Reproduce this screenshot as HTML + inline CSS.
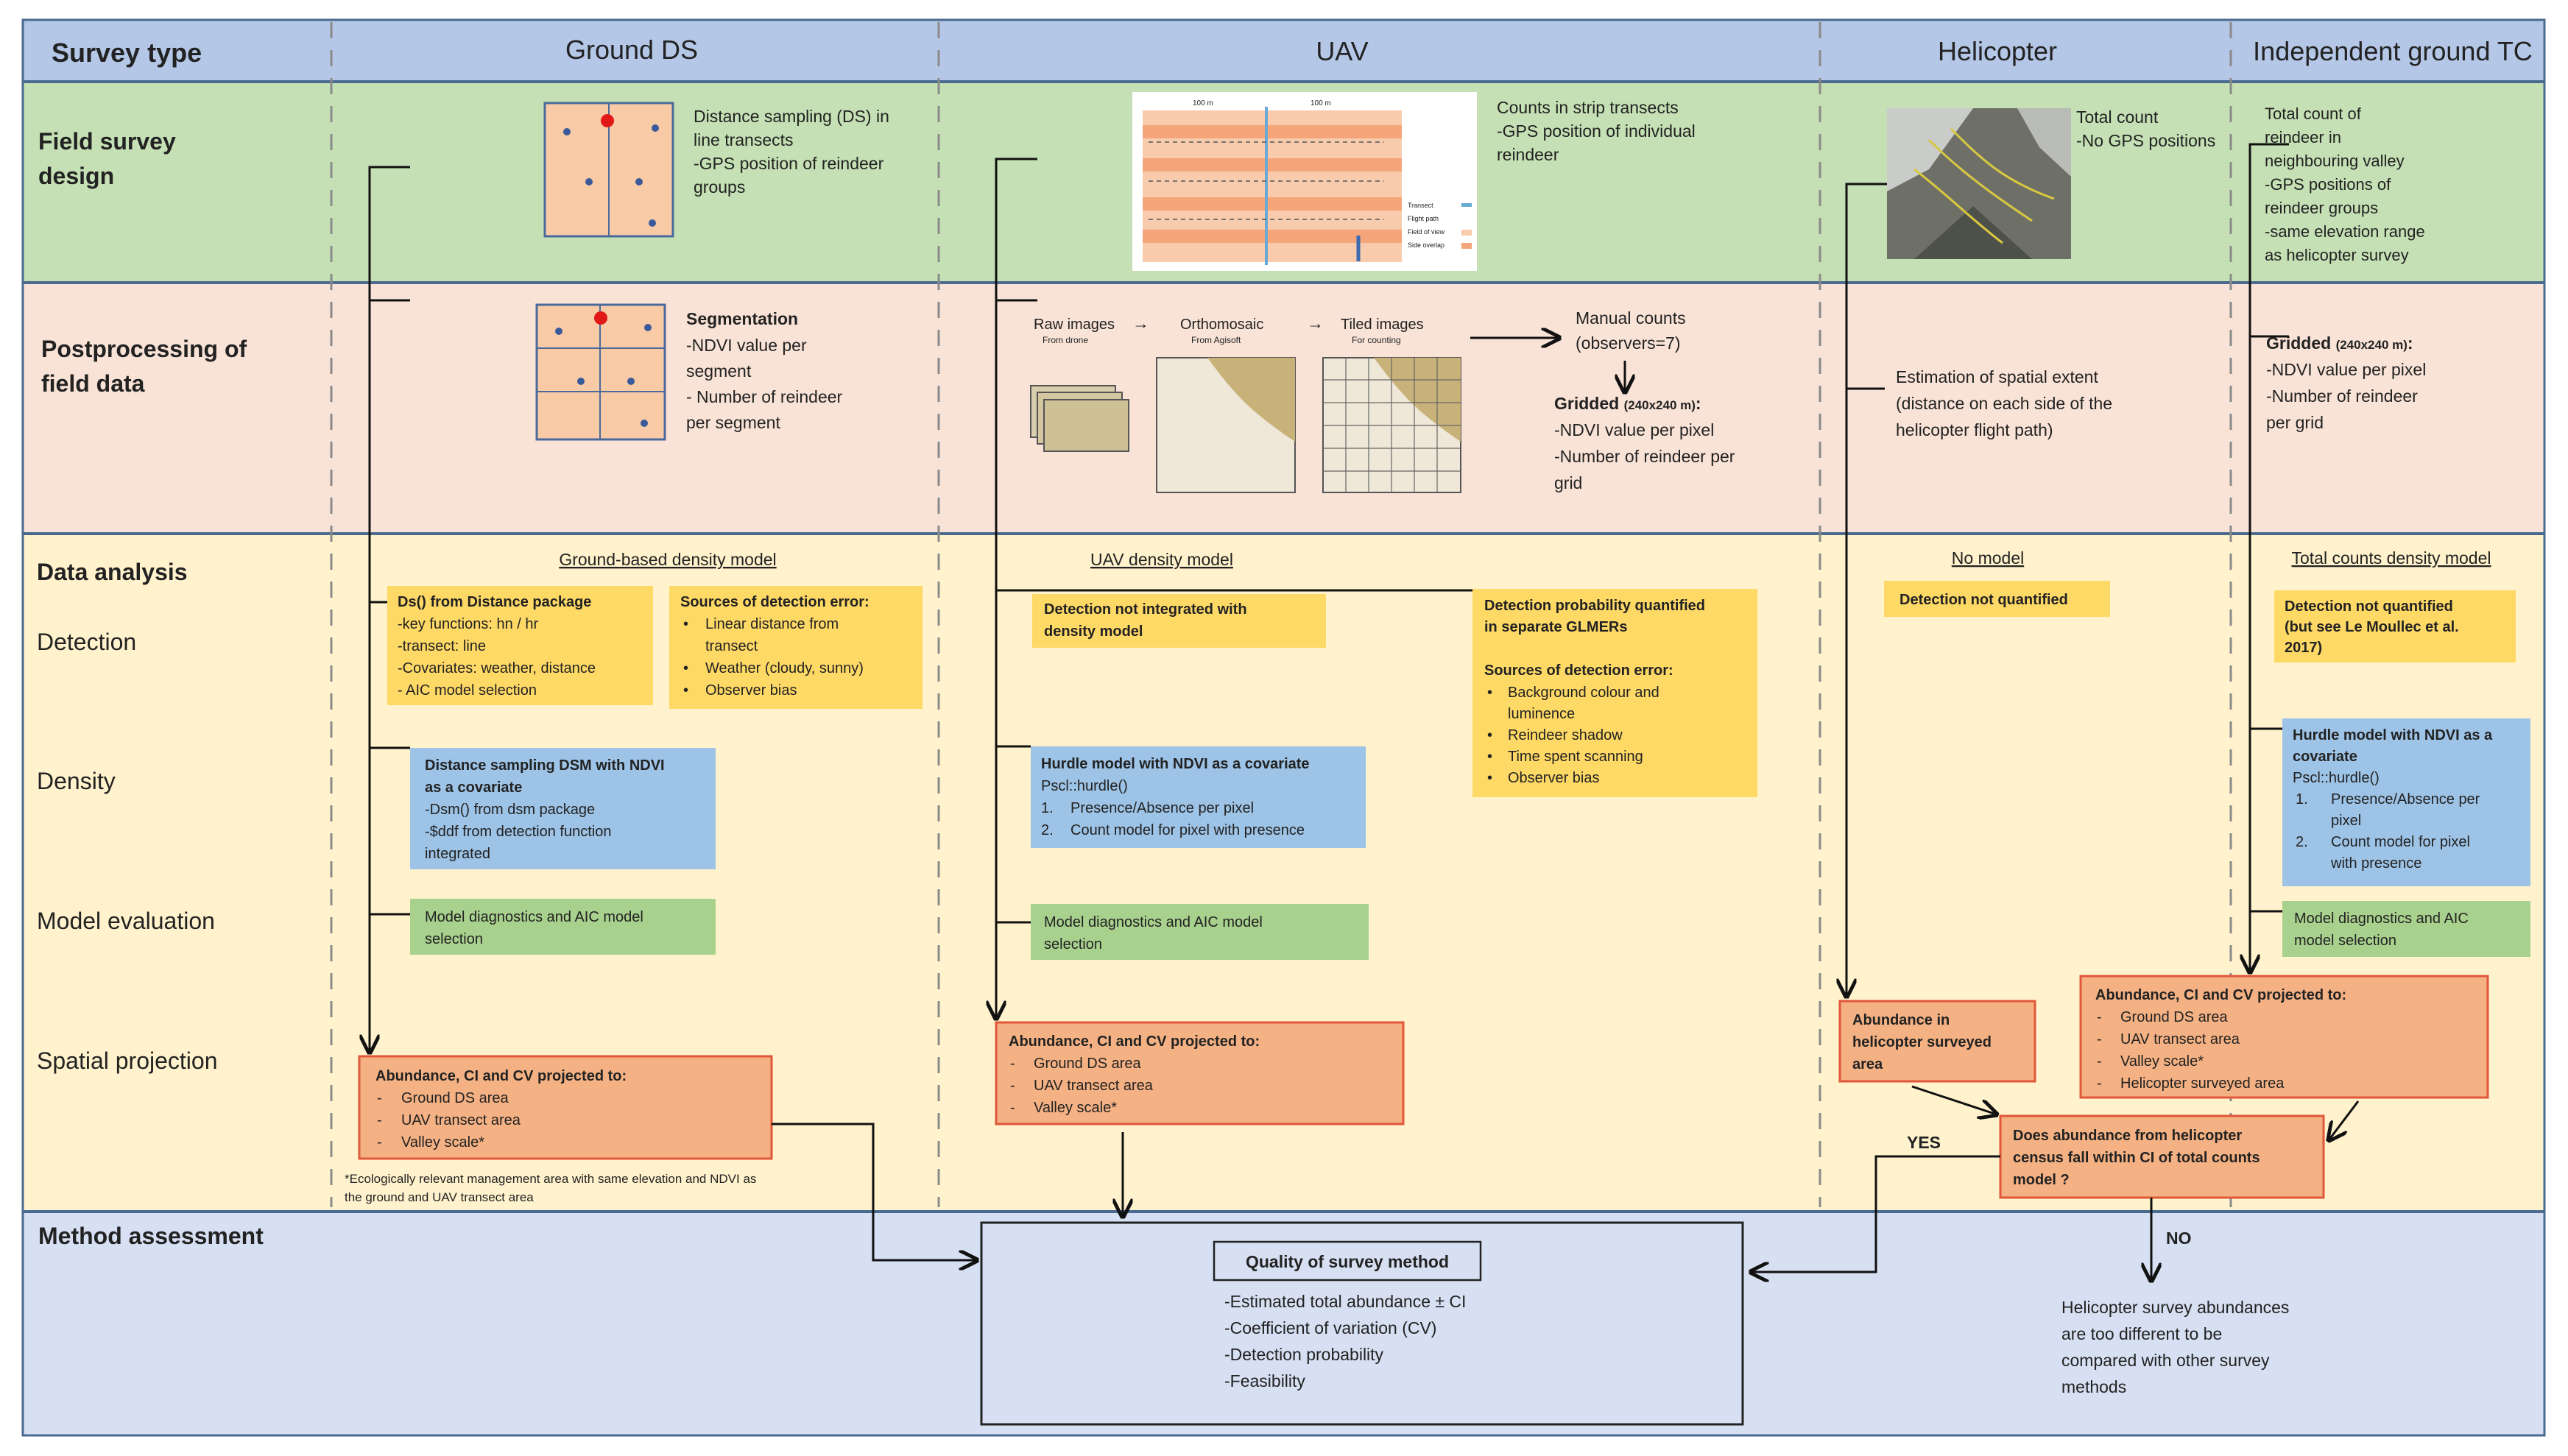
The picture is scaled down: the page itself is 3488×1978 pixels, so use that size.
<!DOCTYPE html>
<html><head><meta charset="utf-8"><style>
html,body{margin:0;padding:0;background:#fff}
svg{display:block}
text{font-family:"Liberation Sans",sans-serif;fill:#222}
.b{font-weight:bold}
.h{font-size:36px}
.l{font-size:32px;font-weight:bold}
.r{font-size:32px}
.t{font-size:23px}
.s{font-size:20px}
.m{font-size:22px}
.xs{font-size:17px}
</style></head><body>
<svg width="3488" height="1978" viewBox="0 0 3488 1978" xmlns="http://www.w3.org/2000/svg">
<defs><marker id="a" viewBox="0 0 10 10" refX="9" refY="5" markerWidth="9" markerHeight="9" orient="auto"><path d="M0,0 L10,5 L0,10" fill="none" stroke="#111" stroke-width="1.8"/></marker></defs>
<rect width="3488" height="1978" fill="#fff"/>
<rect x="31" y="27" width="3425" height="84" fill="#b4c7e7"/>
<rect x="31" y="111" width="3425" height="273" fill="#c5e0b4"/>
<rect x="31" y="384" width="3425" height="341" fill="#f9e3d7"/>
<rect x="31" y="725" width="3425" height="921" fill="#fff2cc"/>
<rect x="31" y="1646" width="3425" height="304" fill="#d6e0f2"/>
<g stroke="#4a6a90" stroke-width="4"><line x1="31" y1="111" x2="3456" y2="111"/><line x1="31" y1="384" x2="3456" y2="384"/><line x1="31" y1="725" x2="3456" y2="725"/><line x1="31" y1="1646" x2="3456" y2="1646"/></g>
<rect x="31" y="27" width="3425" height="1923" fill="none" stroke="#4a6a90" stroke-width="3"/>
<g stroke="#8a8a8a" stroke-width="3" stroke-dasharray="22,16"><line x1="450" y1="30" x2="450" y2="1640"/><line x1="1275" y1="30" x2="1275" y2="1640"/><line x1="2472" y1="30" x2="2472" y2="1640"/><line x1="3030" y1="30" x2="3030" y2="1640"/></g>
<text x="70" y="84" class="h b">Survey type</text>
<text x="858" y="80" class="h" text-anchor="middle">Ground DS</text>
<text x="1823" y="82" class="h" text-anchor="middle">UAV</text>
<text x="2713" y="82" class="h" text-anchor="middle">Helicopter</text>
<text x="3250" y="82" class="h" text-anchor="middle">Independent ground TC</text>
<text x="52" y="203" class="l">Field survey</text><text x="52" y="250" class="l">design</text>
<text x="56" y="485" class="l">Postprocessing of</text><text x="56" y="532" class="l">field data</text>
<text x="50" y="788" class="l">Data analysis</text>
<text x="50" y="883" class="r">Detection</text>
<text x="50" y="1072" class="r">Density</text>
<text x="50" y="1262" class="r">Model evaluation</text>
<text x="50" y="1452" class="r">Spatial projection</text>
<text x="52" y="1690" class="l">Method assessment</text>

<rect x="740" y="140" width="174" height="181" fill="#f8cba6" stroke="#4a6a9c" stroke-width="3"/>
<line x1="827" y1="140" x2="827" y2="321" stroke="#4a6a9c" stroke-width="2"/>
<circle cx="825" cy="164" r="9" fill="#e01818"/>
<g fill="#3b5a9a"><circle cx="770" cy="179" r="5"/><circle cx="890" cy="174" r="5"/><circle cx="800" cy="247" r="5"/><circle cx="868" cy="247" r="5"/><circle cx="886" cy="303" r="5"/></g>
<text x="942" y="166" class="t">Distance sampling (DS) in</text><text x="942" y="198" class="t">line transects</text><text x="942" y="230" class="t">-GPS position of reindeer</text><text x="942" y="262" class="t">groups</text>
<rect x="729" y="414" width="174" height="183" fill="#f8cba6" stroke="#4a6a9c" stroke-width="3"/>
<line x1="815" y1="414" x2="815" y2="597" stroke="#4a6a9c" stroke-width="2"/>
<line x1="729" y1="473" x2="903" y2="473" stroke="#4a6a9c" stroke-width="2"/><line x1="729" y1="532" x2="903" y2="532" stroke="#4a6a9c" stroke-width="2"/>
<circle cx="816" cy="432" r="9" fill="#e01818"/>
<g fill="#3b5a9a"><circle cx="759" cy="450" r="5"/><circle cx="880" cy="445" r="5"/><circle cx="789" cy="518" r="5"/><circle cx="857" cy="518" r="5"/><circle cx="875" cy="575" r="5"/></g>
<text x="932" y="441" class="t b">Segmentation</text>
<text x="932" y="477" class="t">-NDVI value per</text><text x="932" y="512" class="t">segment</text><text x="932" y="547" class="t">- Number of reindeer</text><text x="932" y="582" class="t">per segment</text>

<rect x="1538" y="125" width="468" height="243" fill="#fff"/>
<rect x="1552" y="150" width="352" height="206" fill="#f8cbad"/>
<rect x="1552" y="170" width="352" height="18" fill="#f4a67a"/>
<rect x="1552" y="215" width="352" height="18" fill="#f4a67a"/>
<rect x="1552" y="268" width="352" height="18" fill="#f4a67a"/>
<rect x="1552" y="312" width="352" height="18" fill="#f4a67a"/>
<line x1="1720" y1="145" x2="1720" y2="360" stroke="#6aa9d6" stroke-width="4"/>
<g stroke="#555" stroke-width="1.5" stroke-dasharray="6,5" fill="none"><line x1="1560" y1="193" x2="1880" y2="193"/><line x1="1560" y1="246" x2="1880" y2="246"/><line x1="1560" y1="298" x2="1880" y2="298"/></g>
<line x1="1845" y1="320" x2="1845" y2="355" stroke="#3a6ab0" stroke-width="5"/>
<text x="1620" y="143" style="font-size:10px">100 m</text><text x="1780" y="143" style="font-size:10px">100 m</text>
<g style="font-size:9px"><text x="1912" y="282">Transect</text><text x="1912" y="300">Flight path</text><text x="1912" y="318">Field of view</text><text x="1912" y="336">Side overlap</text></g>
<rect x="1985" y="276" width="14" height="5" fill="#6aa9d6"/><rect x="1985" y="312" width="14" height="8" fill="#f8cbad"/><rect x="1985" y="330" width="14" height="8" fill="#f4a67a"/>
<text x="2033" y="154" class="t">Counts in strip transects</text><text x="2033" y="186" class="t">-GPS position of individual</text><text x="2033" y="218" class="t">reindeer</text>

<text x="1404" y="447" class="s">Raw images</text><text x="1416" y="466" style="font-size:12px">From drone</text>
<text x="1538" y="447" class="t">→</text>
<text x="1603" y="447" class="s">Orthomosaic</text><text x="1618" y="466" style="font-size:12px">From Agisoft</text>
<text x="1775" y="447" class="t">→</text>
<text x="1821" y="447" class="s">Tiled images</text><text x="1836" y="466" style="font-size:12px">For counting</text>
<g stroke="#555" stroke-width="2"><rect x="1400" y="524" width="115" height="70" fill="#d9cfae"/><rect x="1409" y="533" width="115" height="70" fill="#d4c69f"/><rect x="1418" y="543" width="115" height="70" fill="#cfc196"/></g>
<rect x="1571" y="486" width="188" height="183" fill="#efe8d8" stroke="#555" stroke-width="2"/>
<path d="M1640,486 C1680,540 1700,560 1759,600 L1759,486 Z" fill="#c9b27a"/>
<rect x="1797" y="486" width="187" height="183" fill="#efe8d8" stroke="#555" stroke-width="2"/>
<path d="M1866,486 C1906,540 1926,560 1984,600 L1984,486 Z" fill="#c9b27a"/>
<g stroke="#666" stroke-width="1.2"><line x1="1828" y1="486" x2="1828" y2="669"/><line x1="1859" y1="486" x2="1859" y2="669"/><line x1="1890" y1="486" x2="1890" y2="669"/><line x1="1921" y1="486" x2="1921" y2="669"/><line x1="1952" y1="486" x2="1952" y2="669"/><line x1="1797" y1="516" x2="1984" y2="516"/><line x1="1797" y1="547" x2="1984" y2="547"/><line x1="1797" y1="578" x2="1984" y2="578"/><line x1="1797" y1="609" x2="1984" y2="609"/><line x1="1797" y1="640" x2="1984" y2="640"/></g>
<line x1="1997" y1="459" x2="2118" y2="459" stroke="#111" stroke-width="3" marker-end="url(#a)"/>
<text x="2140" y="440" class="t">Manual counts</text><text x="2140" y="474" class="t">(observers=7)</text>
<line x1="2207" y1="490" x2="2207" y2="533" stroke="#111" stroke-width="3" marker-end="url(#a)"/>
<text x="2111" y="556" class="t b">Gridded <tspan style="font-size:17px">(240x240 m)</tspan>:</text>
<text x="2111" y="592" class="t">-NDVI value per pixel</text><text x="2111" y="628" class="t">-Number of reindeer per</text><text x="2111" y="664" class="t">grid</text>

<rect x="2563" y="147" width="250" height="205" fill="#6e7068"/>
<path d="M2563,147 L2680,147 L2620,230 L2563,260 Z" fill="#c9ccc8"/>
<path d="M2740,147 L2813,147 L2813,240 L2770,200 Z" fill="#b8bbb6"/>
<path d="M2600,352 L2680,280 L2760,352 Z" fill="#4e514a"/>
<g stroke="#d8c840" stroke-width="3" fill="none"><path d="M2620,190 C2660,230 2700,260 2760,300"/><path d="M2650,175 C2690,215 2720,245 2790,270"/><path d="M2600,230 C2640,260 2680,300 2720,330"/></g>
<text x="2820" y="167" class="t">Total count</text><text x="2820" y="199" class="t">-No GPS positions</text>
<text x="2575" y="520" class="t">Estimation of spatial extent</text><text x="2575" y="556" class="t">(distance on each side of the</text><text x="2575" y="592" class="t">helicopter flight path)</text>

<text x="3076" y="162" class="m">Total count of</text><text x="3076" y="194" class="m">reindeer in</text><text x="3076" y="226" class="m">neighbouring valley</text><text x="3076" y="258" class="m">-GPS positions of</text><text x="3076" y="290" class="m">reindeer groups</text><text x="3076" y="322" class="m">-same elevation range</text><text x="3076" y="354" class="m">as helicopter survey</text>
<text x="3078" y="474" class="t b">Gridded <tspan style="font-size:17px">(240x240 m)</tspan>:</text>
<text x="3078" y="510" class="t">-NDVI value per pixel</text><text x="3078" y="546" class="t">-Number of reindeer</text><text x="3078" y="582" class="t">per grid</text>

<text x="907" y="768" class="t" text-anchor="middle" text-decoration="underline">Ground-based density model</text>
<text x="1578" y="768" class="t" text-anchor="middle" text-decoration="underline">UAV density model</text>
<text x="2700" y="766" class="t" text-anchor="middle" text-decoration="underline">No model</text>
<text x="3248" y="766" class="t" text-anchor="middle" text-decoration="underline">Total counts density model</text>

<rect x="526" y="796" width="361" height="162" fill="#ffd966"/>
<g class="s"><text x="540" y="824" class="b">Ds() from Distance package</text><text x="540" y="854">-key functions: hn / hr</text><text x="540" y="884">-transect: line</text><text x="540" y="914">-Covariates: weather, distance</text><text x="540" y="944">- AIC model selection</text></g>
<rect x="909" y="796" width="344" height="167" fill="#ffd966"/>
<g class="s"><text x="924" y="824" class="b">Sources of detection error:</text><text x="928" y="854">•</text><text x="958" y="854">Linear distance from</text><text x="958" y="884">transect</text><text x="928" y="914">•</text><text x="958" y="914">Weather (cloudy, sunny)</text><text x="928" y="944">•</text><text x="958" y="944">Observer bias</text></g>
<rect x="557" y="1016" width="415" height="165" fill="#9dc3e6"/>
<g class="s"><text x="577" y="1046" class="b">Distance sampling DSM with NDVI</text><text x="577" y="1076" class="b">as a covariate</text><text x="577" y="1106">-Dsm() from dsm package</text><text x="577" y="1136">-$ddf from detection function</text><text x="577" y="1166">integrated</text></g>
<rect x="557" y="1221" width="415" height="76" fill="#a9d18e"/>
<g class="s"><text x="577" y="1252">Model diagnostics and AIC model</text><text x="577" y="1282">selection</text></g>
<rect x="488" y="1435" width="560" height="139" fill="#f4b183" stroke="#e0573a" stroke-width="3"/>
<g class="s"><text x="510" y="1468" class="b">Abundance, CI and CV projected to:</text><text x="512" y="1498">-</text><text x="545" y="1498">Ground DS area</text><text x="512" y="1528">-</text><text x="545" y="1528">UAV transect area</text><text x="512" y="1558">-</text><text x="545" y="1558">Valley scale*</text></g>
<text x="468" y="1607" class="xs">*Ecologically relevant management area with same elevation and NDVI as</text>
<text x="468" y="1632" class="xs">the ground and UAV transect area</text>

<rect x="1402" y="807" width="399" height="73" fill="#ffd966"/>
<g class="s"><text x="1418" y="834" class="b">Detection not integrated with</text><text x="1418" y="864" class="b">density model</text></g>
<rect x="2000" y="800" width="387" height="283" fill="#ffd966"/>
<g class="s"><text x="2016" y="829" class="b">Detection probability quantified</text><text x="2016" y="858" class="b">in separate GLMERs</text><text x="2016" y="917" class="b">Sources of detection error:</text>
<text x="2020" y="947">•</text><text x="2048" y="947">Background colour and</text><text x="2048" y="976">luminence</text><text x="2020" y="1005">•</text><text x="2048" y="1005">Reindeer shadow</text><text x="2020" y="1034">•</text><text x="2048" y="1034">Time spent scanning</text><text x="2020" y="1063">•</text><text x="2048" y="1063">Observer bias</text></g>
<rect x="1400" y="1014" width="455" height="138" fill="#9dc3e6"/>
<g class="s"><text x="1414" y="1044" class="b">Hurdle model with NDVI as a covariate</text><text x="1414" y="1074">Pscl::hurdle()</text><text x="1414" y="1104">1.</text><text x="1454" y="1104">Presence/Absence per pixel</text><text x="1414" y="1134">2.</text><text x="1454" y="1134">Count model for pixel with presence</text></g>
<rect x="1400" y="1228" width="459" height="76" fill="#a9d18e"/>
<g class="s"><text x="1418" y="1259">Model diagnostics and AIC model</text><text x="1418" y="1289">selection</text></g>
<rect x="1353" y="1389" width="553" height="138" fill="#f4b183" stroke="#e0573a" stroke-width="3"/>
<g class="s"><text x="1370" y="1421" class="b">Abundance, CI and CV projected to:</text><text x="1372" y="1451">-</text><text x="1404" y="1451">Ground DS area</text><text x="1372" y="1481">-</text><text x="1404" y="1481">UAV transect area</text><text x="1372" y="1511">-</text><text x="1404" y="1511">Valley scale*</text></g>

<rect x="2559" y="789" width="307" height="49" fill="#ffd966"/>
<text x="2580" y="821" class="s b">Detection not quantified</text>
<rect x="2499" y="1360" width="265" height="109" fill="#f4b183" stroke="#e0573a" stroke-width="3"/>
<g class="s b"><text x="2516" y="1392">Abundance in</text><text x="2516" y="1422">helicopter surveyed</text><text x="2516" y="1452">area</text></g>
<rect x="2717" y="1516" width="439" height="111" fill="#f4b183" stroke="#e0573a" stroke-width="3"/>
<g class="s b"><text x="2734" y="1549">Does abundance from helicopter</text><text x="2734" y="1579">census fall within CI of total counts</text><text x="2734" y="1609">model ?</text></g>
<text x="2590" y="1560" class="t b">YES</text>
<text x="2942" y="1690" class="t b">NO</text>
<g class="t"><text x="2800" y="1784">Helicopter survey abundances</text><text x="2800" y="1820">are too different to be</text><text x="2800" y="1856">compared with other survey</text><text x="2800" y="1892">methods</text></g>

<rect x="3089" y="802" width="328" height="98" fill="#ffd966"/>
<g class="s b"><text x="3103" y="830">Detection not quantified</text><text x="3103" y="858">(but see Le Moullec et al.</text><text x="3103" y="886">2017)</text></g>
<rect x="3100" y="976" width="337" height="228" fill="#9dc3e6"/>
<g class="s"><text x="3114" y="1005" class="b">Hurdle model with NDVI as a</text><text x="3114" y="1034" class="b">covariate</text><text x="3114" y="1063">Pscl::hurdle()</text><text x="3118" y="1092">1.</text><text x="3166" y="1092">Presence/Absence per</text><text x="3166" y="1121">pixel</text><text x="3118" y="1150">2.</text><text x="3166" y="1150">Count model for pixel</text><text x="3166" y="1179">with presence</text></g>
<rect x="3100" y="1224" width="337" height="76" fill="#a9d18e"/>
<g class="s"><text x="3116" y="1254">Model diagnostics and AIC</text><text x="3116" y="1284">model selection</text></g>
<rect x="2826" y="1326" width="553" height="165" fill="#f4b183" stroke="#e0573a" stroke-width="3"/>
<g class="s"><text x="2846" y="1358" class="b">Abundance, CI and CV projected to:</text><text x="2848" y="1388">-</text><text x="2880" y="1388">Ground DS area</text><text x="2848" y="1418">-</text><text x="2880" y="1418">UAV transect area</text><text x="2848" y="1448">-</text><text x="2880" y="1448">Valley scale*</text><text x="2848" y="1478">-</text><text x="2880" y="1478">Helicopter surveyed area</text></g>

<rect x="1333" y="1661" width="1034" height="274" fill="none" stroke="#222" stroke-width="3"/>
<rect x="1649" y="1687" width="362" height="52" fill="none" stroke="#222" stroke-width="2.5"/>
<text x="1830" y="1722" class="t b" text-anchor="middle">Quality of survey method</text>
<g class="t"><text x="1663" y="1776">-Estimated total abundance ± CI</text><text x="1663" y="1812">-Coefficient of variation (CV)</text><text x="1663" y="1848">-Detection probability</text><text x="1663" y="1884">-Feasibility</text></g>

<g stroke="#111" stroke-width="3" fill="none">
<polyline points="557,227 502,227 502,1430" marker-end="url(#a)"/>
<line x1="502" y1="408" x2="557" y2="408"/>
<line x1="502" y1="818" x2="526" y2="818"/>
<line x1="502" y1="1016" x2="557" y2="1016"/>
<line x1="502" y1="1242" x2="557" y2="1242"/>
<polyline points="1048,1527 1186,1527 1186,1712 1327,1712" marker-end="url(#a)"/>
<polyline points="1409,216 1353,216 1353,1384" marker-end="url(#a)"/>
<line x1="1353" y1="408" x2="1409" y2="408"/>
<line x1="1353" y1="802" x2="2000" y2="802"/>
<line x1="1353" y1="1014" x2="1400" y2="1014"/>
<line x1="1353" y1="1253" x2="1400" y2="1253"/>
<line x1="1525" y1="1538" x2="1525" y2="1653" marker-end="url(#a)"/>
<polyline points="2563,250 2508,250 2508,1354" marker-end="url(#a)"/>
<line x1="2508" y1="528" x2="2560" y2="528"/>
<line x1="2597" y1="1476" x2="2712" y2="1514" marker-end="url(#a)"/>
<polyline points="2717,1571 2548,1571 2548,1728 2378,1728" marker-end="url(#a)"/>
<line x1="2922" y1="1627" x2="2922" y2="1740" marker-end="url(#a)"/>
<polyline points="3109,196 3056,196 3056,1321" marker-end="url(#a)"/>
<line x1="3056" y1="457" x2="3109" y2="457"/>
<line x1="3056" y1="990" x2="3100" y2="990"/>
<line x1="3056" y1="1238" x2="3100" y2="1238"/>
<line x1="3203" y1="1496" x2="3163" y2="1549" marker-end="url(#a)"/>
</g>
</svg>
</body></html>
